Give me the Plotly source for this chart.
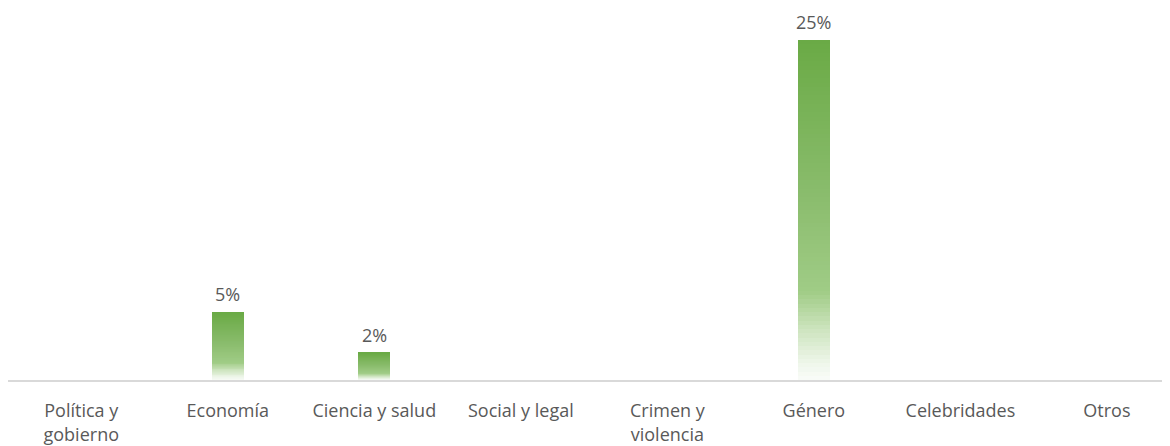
import plotly.graph_objects as go
import numpy as np

categories = ["Política y<br>gobierno", "Economía", "Ciencia y salud", "Social y legal",
              "Crimen y<br>violencia", "Género", "Celebridades", "Otros"]
values = [0, 5, 2, 0, 0, 25, 0, 0]
labels = ["", "5%", "2%", "", "", "25%", "", ""]

# gradient stops (fraction from top of bar -> rgb)
stops = [(0.0, (106, 170, 69)), (0.47, (139, 189, 110)), (0.74, (160, 204, 134)),
         (0.85, (205, 228, 190)), (0.95, (238, 246, 234)), (1.0, (250, 252, 249))]

def grad(f):
    for (f0, c0), (f1, c1) in zip(stops[:-1], stops[1:]):
        if f0 <= f <= f1:
            t = (f - f0) / (f1 - f0) if f1 > f0 else 0
            return "rgb(%d,%d,%d)" % tuple(round(a + (b - a) * t) for a, b in zip(c0, c1))
    return "rgb(%d,%d,%d)" % stops[-1][1]

N = 80
vals = np.array(values, dtype=float)
xs = list(range(len(categories)))
fig = go.Figure()
for k in range(N):
    f_top = 1 - (k + 0.5) / N
    fig.add_trace(go.Bar(x=xs, y=vals / N, width=0.218,
                         marker=dict(color=grad(f_top), line=dict(width=0)),
                         showlegend=False, hoverinfo="skip"))

for i, v in enumerate(values):
    if v > 0:
        fig.add_annotation(x=xs[i], y=v, text=labels[i], showarrow=False,
                           yanchor="bottom", yshift=4,
                           font=dict(size=18, color="#595959", family="Open Sans"))

fig.update_layout(
    width=1170, height=446, barmode="stack", bargap=0,
    paper_bgcolor="white", plot_bgcolor="white",
    margin=dict(l=0, r=0, t=5, b=74),
    font=dict(family="Open Sans", color="#595959", size=18),
    xaxis=dict(tickmode="array", tickvals=xs, ticktext=categories,
               range=[-0.5, 7.485], showgrid=False, zeroline=False,
               showline=True, linecolor="#d9d9d9", linewidth=1.5, automargin=False,
               ticks="", ticklabelstandoff=14, tickfont=dict(size=18, color="#595959")),
    yaxis=dict(range=[0, 27], visible=False, showgrid=False, zeroline=False,
               automargin=False),
)
fig.write_html("out.html")
